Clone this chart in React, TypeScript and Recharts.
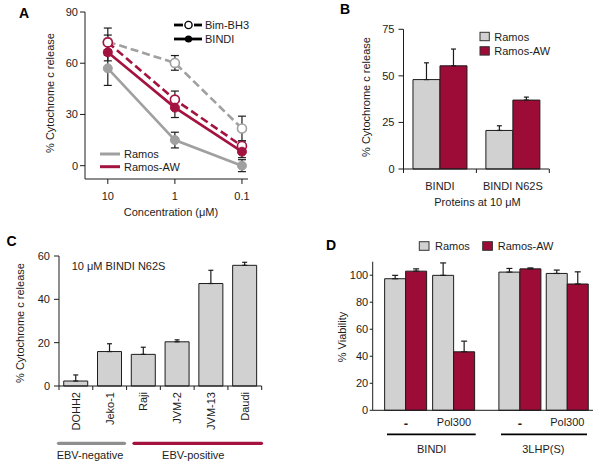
import React from 'react';
import { LineChart, Line, XAxis, YAxis, ErrorBar, BarChart, Bar } from 'recharts';

const FONT = '"Liberation Sans", Arial, Helvetica, sans-serif';
const INK = '#1c1c1c';
const GRAY_LINE = '#a0a0a0';
const RED_LINE = '#a4133f';
const BAR_GRAY = '#d1d1d1';
const BAR_RED = '#9d0b37';

// ---------- Panel A data
const concLabels = ['10', '1', '0.1'];
const ramosBindi = [57, 15, 0];
const ramosBindiErr = [10, 4.6, 3.5];
const ramosBim = [72.6, 60.2, 21.8];
const ramosBimErr = [8, 4.3, 7.2];
const awBindi = [66.4, 34, 8.2];
const awBindiErr = [5, 5.8, 3.5];
const awBim = [72.2, 38.7, 11.5];
const awBimErr = [4.3, 5, 3];
const aTicks = [0, 30, 60, 90];

// ---------- Panel B data
const bCats = ['BINDI', 'BINDI N62S'];
const bRamos = [48, 20.7];
const bRamosErr = [9, 2.5];
const bAw = [55.4, 37];
const bAwErr = [9, 1.6];
const bTicks = [0, 25, 50, 75];

// ---------- Panel C data
const cCells = ['DOHH2', 'Jeko-1', 'Raji', 'JVM-2', 'JVM-13', 'Daudi'];
const cRelease = [2.3, 15.9, 14.6, 20.4, 47.3, 55.7];
const cErr = [2.8, 3.6, 3.3, 0.9, 6.1, 1.4];
const cTicks = [0, 20, 40, 60];

// ---------- Panel D data
const dTreat = ['-', 'Pol300'];
const dBindiRamos = [97.4, 99.9];
const dBindiRamosErr = [2.5, 9.2];
const dBindiAw = [103, 43.3];
const dBindiAwErr = [1.7, 7.9];
const dLhpRamos = [102.3, 101.3];
const dLhpRamosErr = [2.7, 2.5];
const dLhpAw = [104.7, 93.5];
const dLhpAwErr = [0.7, 9];
const dTicks = [0, 20, 40, 60, 80, 100];

const dataA = concLabels.map((label, i) => ({
  x: i,
  label,
  rBindi: ramosBindi[i],
  rBindiE: ramosBindiErr[i],
  rBim: ramosBim[i],
  rBimE: ramosBimErr[i],
  aBindi: awBindi[i],
  aBindiE: awBindiErr[i],
  aBim: awBim[i],
  aBimE: awBimErr[i],
}));

const dataB = bCats.map((cat, i) => ({
  cat,
  ramos: bRamos[i],
  ramosE: [0, bRamosErr[i]],
  aw: bAw[i],
  awE: [0, bAwErr[i]],
}));

const dataC = cCells.map((cat, i) => ({ cat, v: cRelease[i], e: [0, cErr[i]] }));

const dataD1 = dTreat.map((cat, i) => ({
  cat,
  ramos: dBindiRamos[i],
  ramosE: [0, dBindiRamosErr[i]],
  aw: dBindiAw[i],
  awE: [0, dBindiAwErr[i]],
}));
const dataD2 = dTreat.map((cat, i) => ({
  cat,
  ramos: dLhpRamos[i],
  ramosE: [0, dLhpRamosErr[i]],
  aw: dLhpAw[i],
  awE: [0, dLhpAwErr[i]],
}));

const tickStyle = { fill: INK, fontSize: 11, fontFamily: FONT };

function BandTick(props: any) {
  const { x, y, payload, index, count, half, gap, len, rotate, bold } = props;
  const axisY = y - gap;
  const label = String(payload.value);
  return (
    <g>
      {len > 0 && (
        <line x1={x - half} x2={x - half} y1={axisY} y2={axisY + len} stroke={INK} strokeWidth={1} />
      )}
      {len > 0 && index === count - 1 && (
        <line x1={x + half} x2={x + half} y1={axisY} y2={axisY + len} stroke={INK} strokeWidth={1} />
      )}
      {rotate ? (
        <text
          x={x}
          y={y}
          dy="0.36em"
          textAnchor="end"
          transform={`rotate(-90, ${x}, ${y})`}
          fill={INK}
          fontSize={11}
          fontFamily={FONT}
        >
          {label}
        </text>
      ) : (
        <text
          x={x}
          y={y}
          dy="0.71em"
          textAnchor="middle"
          fill={INK}
          fontSize={label === '-' ? 13 : 11}
          fontWeight={label === '-' || bold ? 'bold' : 'normal'}
          fontFamily={FONT}
        >
          {label}
        </text>
      )}
    </g>
  );
}

const openDot = (c: string) => ({ r: 4.5, fill: '#ffffff', stroke: c, strokeWidth: 1.6, strokeDasharray: 'none' });
const fillDot = (c: string) => ({ r: 4.5, fill: c, stroke: c, strokeWidth: 1, strokeDasharray: 'none' });

function PanelA() {
  return (
    <div style={{ position: 'absolute', left: 0, top: 0 }}>
      <LineChart width={260} height={225} data={dataA} margin={{ top: 12, right: 12, bottom: 0, left: 0 }}>
        <XAxis
          dataKey="x"
          type="number"
          domain={[-0.34, 2.09]}
          ticks={[0, 1, 2]}
          tickFormatter={(v: number) => concLabels[v]}
          height={46}
          tickSize={5}
          tickMargin={8}
          stroke={INK}
          tick={tickStyle}
          allowDataOverflow
          interval={0}
        />
        <YAxis
          type="number"
          domain={[-7.8, 90]}
          ticks={aTicks}
          width={85}
          tickSize={5}
          tickMargin={2}
          stroke={INK}
          tick={tickStyle}
          allowDataOverflow
          interval={0}
        />
        <Line dataKey="rBindi" stroke={GRAY_LINE} strokeWidth={2.6} dot={fillDot(GRAY_LINE)} isAnimationActive={false}>
          <ErrorBar dataKey="rBindiE" width={4} stroke={INK} strokeWidth={1.2} direction="y" />
        </Line>
        <Line dataKey="rBim" stroke={GRAY_LINE} strokeWidth={2.6} strokeDasharray="8 4" dot={openDot(GRAY_LINE)} isAnimationActive={false}>
          <ErrorBar dataKey="rBimE" width={4} stroke={INK} strokeWidth={1.2} direction="y" />
        </Line>
        <Line dataKey="aBim" stroke={RED_LINE} strokeWidth={2.6} strokeDasharray="8 4" dot={openDot(RED_LINE)} isAnimationActive={false}>
          <ErrorBar dataKey="aBimE" width={4} stroke={INK} strokeWidth={1.2} direction="y" />
        </Line>
        <Line dataKey="aBindi" stroke={RED_LINE} strokeWidth={2.6} dot={fillDot(RED_LINE)} isAnimationActive={false}>
          <ErrorBar dataKey="aBindiE" width={4} stroke={INK} strokeWidth={1.2} direction="y" />
        </Line>
      </LineChart>
    </div>
  );
}

const B_PLOT_W = 300 - 103.5 - 50.7;
function PanelB() {
  return (
    <div style={{ position: 'absolute', left: 300, top: 0 }}>
      <BarChart
        width={300}
        height={225}
        data={dataB}
        margin={{ top: 29.3, right: 50.7, bottom: 0, left: 0 }}
        barCategoryGap="13%"
        barGap={0}
      >
        <XAxis
          dataKey="cat"
          height={56}
          tickLine={false}
          tickSize={4}
          tickMargin={8.7}
          stroke={INK}
          interval={0}
          tick={<BandTick half={B_PLOT_W / bCats.length / 2} gap={12.7} len={4} count={bCats.length} />}
        />
        <YAxis type="number" domain={[0, 75]} ticks={bTicks} width={103.5} tickSize={5} tickMargin={4} stroke={INK} tick={tickStyle} interval={0} />
        <Bar dataKey="ramos" fill={BAR_GRAY} stroke={INK} strokeWidth={1} isAnimationActive={false}>
          <ErrorBar dataKey="ramosE" width={2.5} stroke={INK} strokeWidth={1.2} direction="y" />
        </Bar>
        <Bar dataKey="aw" fill={BAR_RED} stroke={INK} strokeWidth={1} isAnimationActive={false}>
          <ErrorBar dataKey="awE" width={2.5} stroke={INK} strokeWidth={1.2} direction="y" />
        </Bar>
      </BarChart>
    </div>
  );
}

const C_PLOT_W = 300 - 59 - 38.3;
function PanelC() {
  return (
    <div style={{ position: 'absolute', left: 0, top: 225 }}>
      <BarChart
        width={300}
        height={238}
        data={dataC}
        margin={{ top: 31, right: 38.3, bottom: 0, left: 0 }}
        barCategoryGap="14%"
      >
        <XAxis
          dataKey="cat"
          height={77}
          tickLine={false}
          tickSize={6}
          tickMargin={0}
          stroke={INK}
          interval={0}
          tick={<BandTick half={C_PLOT_W / cCells.length / 2} gap={6} len={4} count={cCells.length} rotate />}
        />
        <YAxis type="number" domain={[0, 60]} ticks={cTicks} width={59} tickSize={5} tickMargin={4} stroke={INK} tick={tickStyle} interval={0} />
        <Bar dataKey="v" fill={BAR_GRAY} stroke={INK} strokeWidth={1} isAnimationActive={false}>
          <ErrorBar dataKey="e" width={2.5} stroke={INK} strokeWidth={1.2} direction="y" />
        </Bar>
      </BarChart>
    </div>
  );
}

function DChart(props: { data: any[]; left: number; width: number; showY: boolean; yWidth: number; padL: number; padR: number; right: number }) {
  const { data, left, width, showY, yWidth, padL, padR, right } = props;
  return (
    <div style={{ position: 'absolute', left, top: 225 }}>
      <BarChart
        width={width}
        height={238}
        data={data}
        margin={{ top: 36.7, right, bottom: 0, left: 0 }}
        barCategoryGap="5.5%"
        barGap={0}
      >
        <XAxis
          dataKey="cat"
          height={52.7}
          tickLine={false}
          tickSize={0}
          tickMargin={8}
          stroke={INK}
          interval={0}
          padding={{ left: padL, right: padR }}
          tick={<BandTick half={0} gap={8} len={0} count={data.length} />}
        />
        <YAxis
          type="number"
          domain={[0, 110]}
          ticks={dTicks}
          width={yWidth}
          hide={!showY}
          tickSize={3}
          tickMargin={1.5}
          stroke={INK}
          tick={tickStyle}
          interval={0}
        />
        <Bar dataKey="ramos" fill={BAR_GRAY} stroke={INK} strokeWidth={1} isAnimationActive={false}>
          <ErrorBar dataKey="ramosE" width={3} stroke={INK} strokeWidth={1.2} direction="y" />
        </Bar>
        <Bar dataKey="aw" fill={BAR_RED} stroke={INK} strokeWidth={1} isAnimationActive={false}>
          <ErrorBar dataKey="awE" width={3} stroke={INK} strokeWidth={1.2} direction="y" />
        </Bar>
      </BarChart>
    </div>
  );
}

function Overlay() {
  const t = { fontFamily: FONT, fontSize: 11, fill: INK } as const;
  const letter = { fontFamily: FONT, fontSize: 14, fontWeight: 'bold', fill: '#000' } as const;
  return (
    <svg width={600} height={463} style={{ position: 'absolute', left: 0, top: 0, pointerEvents: 'none' }}>
      {/* Panel letters */}
      <text x={19} y={17.5} {...letter}>A</text>
      <text x={340} y={13.5} {...letter}>B</text>
      <text x={6.5} y={246} {...letter}>C</text>
      <text x={326} y={249.5} {...letter}>D</text>

      {/* Panel A titles */}
      <text x={54} y={93} textAnchor="middle" transform="rotate(-90, 54, 93)" {...t}>% Cytochrome c release</text>
      <text x={171} y={215.5} textAnchor="middle" {...t}>Concentration (μM)</text>
      {/* Panel A legends */}
      <line x1={174} x2={183} y1={25} y2={25} stroke="#000" strokeWidth={2.8} />
      <line x1={194} x2={202} y1={25} y2={25} stroke="#000" strokeWidth={2.8} />
      <circle cx={188.5} cy={25} r={3.6} fill="#fff" stroke="#000" strokeWidth={1.4} />
      <text x={205} y={29} {...t}>Bim-BH3</text>
      <line x1={174} x2={202} y1={39} y2={39} stroke="#000" strokeWidth={2.8} />
      <circle cx={188.5} cy={39} r={3.6} fill="#000" />
      <text x={205} y={43} {...t}>BINDI</text>
      <line x1={100} x2={120} y1={154} y2={154} stroke={GRAY_LINE} strokeWidth={3} />
      <text x={124} y={158} {...t}>Ramos</text>
      <line x1={100} x2={120} y1={166.7} y2={166.7} stroke={RED_LINE} strokeWidth={3} />
      <text x={124} y={170.7} {...t}>Ramos-AW</text>

      {/* Panel B titles */}
      <text x={369.5} y={97} textAnchor="middle" transform="rotate(-90, 369.5, 97)" {...t}>% Cytochrome c release</text>
      <text x={477.5} y={206} textAnchor="middle" {...t}>Proteins at 10 μM</text>
      <rect x={480} y={32.3} width={9.3} height={8.4} fill={BAR_GRAY} stroke="#333" strokeWidth={1} />
      <text x={494.3} y={40.5} {...t}>Ramos</text>
      <rect x={480} y={46.7} width={9.3} height={8.4} fill={BAR_RED} stroke="#333" strokeWidth={1} />
      <text x={494.3} y={55} {...t}>Ramos-AW</text>

      {/* Panel C titles */}
      <text x={24} y={323} textAnchor="middle" transform="rotate(-90, 24, 323)" {...t}>% Cytochrome c release</text>
      <text x={71.7} y={269.5} {...t}>10 μM BINDI N62S</text>
      <line x1={58.5} x2={124.5} y1={443.3} y2={443.3} stroke="#8f8f8f" strokeWidth={3.2} strokeLinecap="round" />
      <line x1={134} x2={261.5} y1={443.3} y2={443.3} stroke={RED_LINE} strokeWidth={3.2} strokeLinecap="round" />
      <text x={90} y={458.7} textAnchor="middle" {...t}>EBV-negative</text>
      <text x={193.3} y={458.7} textAnchor="middle" {...t}>EBV-positive</text>

      {/* Panel D titles */}
      <text x={345.6} y={337} textAnchor="middle" transform="rotate(-90, 345.6, 337)" {...t}>% Viability</text>
      <rect x={419.3} y={241.7} width={9.7} height={8.6} fill={BAR_GRAY} stroke="#333" strokeWidth={1} />
      <text x={435} y={249.5} {...t}>Ramos</text>
      <rect x={482.7} y={241.7} width={9.7} height={8.6} fill={BAR_RED} stroke="#333" strokeWidth={1} />
      <text x={497.7} y={249.5} {...t}>Ramos-AW</text>
      <line x1={387} x2={475.7} y1={434.3} y2={434.3} stroke="#000" strokeWidth={1.8} />
      <line x1={501} x2={587} y1={434.3} y2={434.3} stroke="#000" strokeWidth={1.8} />
      <text x={431.7} y={453} textAnchor="middle" {...t}>BINDI</text>
      <text x={543.3} y={453} textAnchor="middle" {...t}>3LHP(S)</text>
    </svg>
  );
}

export default function App() {
  return (
    <div style={{ position: 'absolute', left: 0, top: 0, width: 600, height: 463, background: '#fff', overflow: 'hidden' }}>
      <PanelA />
      <PanelB />
      <PanelC />
      <DChart data={dataD1} left={300} width={185} showY yWidth={72.7} padL={9.3} padR={7} right={0} />
      <DChart data={dataD2} left={485} width={115} showY={false} yWidth={0} padL={11.3} padR={2} right={7} />
      <Overlay />
    </div>
  );
}
